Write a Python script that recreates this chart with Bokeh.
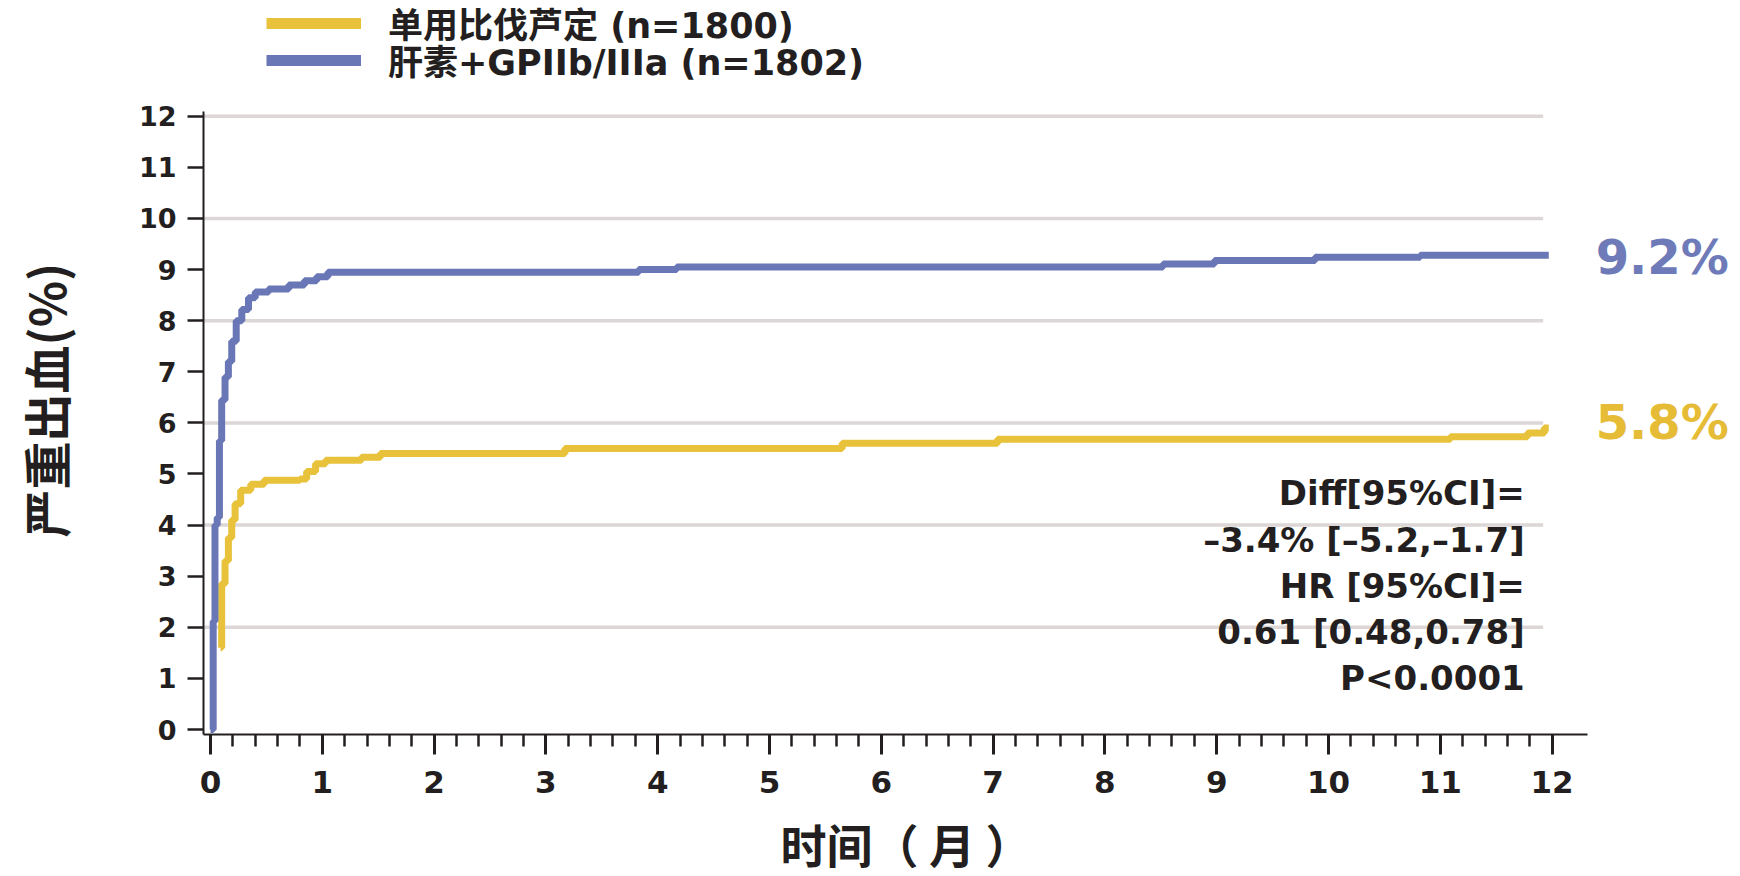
from bokeh.plotting import figure
from bokeh.models import Range1d, FixedTicker, Label, Legend, LegendItem, Title
from bokeh.embed import file_html
from bokeh.resources import INLINE

# ---- data ----
months_bival = [0.09, 0.10, 0.13, 0.16, 0.19, 0.22, 0.27, 0.36, 0.48, 0.80, 0.86, 0.94,
                1.03, 1.35, 1.52, 3.17, 5.65, 7.04, 11.09, 11.78, 11.93, 11.97]
pct_bival = [1.6, 2.85, 3.3, 3.75, 4.1, 4.42, 4.68, 4.8, 4.88, 4.9, 5.05, 5.2,
             5.27, 5.33, 5.4, 5.5, 5.6, 5.68, 5.73, 5.8, 5.9, 5.9]

months_hep = [0.00, 0.024, 0.04, 0.06, 0.08, 0.10, 0.13, 0.16, 0.19, 0.23, 0.28, 0.34,
              0.40, 0.52, 0.70, 0.84, 0.95, 1.05, 3.83, 4.17, 8.52, 8.98, 9.88, 10.82, 11.97]
pct_hep = [0.0, 2.12, 4.0, 4.15, 5.65, 6.45, 6.9, 7.2, 7.6, 8.0, 8.22, 8.45,
           8.56, 8.62, 8.7, 8.78, 8.86, 8.95, 9.0, 9.05, 9.11, 9.18, 9.24, 9.28, 9.28]

y_ticks = list(range(0, 13))
x_ticks = list(range(0, 13))
x_minor_ticks = [round(i * 0.2, 2) for i in range(61)]
grid_levels = [2, 4, 6, 8, 10, 12]

legend_labels = ["单用比伐芦定 (n=1800)", "肝素+GPIIb/IIIa (n=1802)"]
end_label_bival = "5.8%"
end_label_hep = "9.2%"
stats_lines = ["Diff[95%CI]=", "–3.4% [–5.2,–1.7]", "HR [95%CI]=",
               "0.61 [0.48,0.78]", "P<0.0001"]
x_title = "时间（ 月 ）"
y_title = "严重出血(%)"

# ---- style ----
GOLD = "#e8c23a"
BLUE = "#6a77b6"
INK = "#231f20"
GRID = "#ddd6d6"
LATIN = "DejaVu Sans"
MIXED = "DejaVu Sans, Noto Sans CJK SC"
CJK = "Noto Sans CJK SC"

# frame spans from the y axis to the right edge and from the top edge to the x axis;
# axis bounds keep the drawn axes to the reference's extent
x0, x1 = -0.0626, 13.685
y0, y1 = -0.0978, 14.266
x_axis_end = 12.317
y_axis_end = 12.09

p = figure(width=1740, height=876, x_range=Range1d(x0, x1), y_range=Range1d(y0, y1),
           output_backend="svg", toolbar_location=None,
           min_border_left=203, min_border_right=0, min_border_top=0, min_border_bottom=142)
p.outline_line_color = None
p.xgrid.visible = False
p.ygrid.visible = False
p.background_fill_color = "white"

# horizontal gridlines (stop just short of month 12, as in the reference)
p.segment(x0=[x0] * len(grid_levels), y0=grid_levels,
          x1=[11.92] * len(grid_levels), y1=grid_levels,
          line_color=GRID, line_width=3.5)

# curves
p.step(months_bival, pct_bival, mode="after", line_color=GOLD, line_width=7)
p.step(months_hep, pct_hep, mode="after", line_color=BLUE, line_width=7)

# legend swatches: renderers whose only point lies outside the visible ranges
r_gold = p.line(x=[x0 - 5, x0 - 5], y=[y0 - 5, y0 - 5], line_color=GOLD, line_width=11)
r_blue = p.line(x=[x0 - 5, x0 - 5], y=[y0 - 5, y0 - 5], line_color=BLUE, line_width=11)

def make_legend(label, renderer, loc):
    return Legend(items=[LegendItem(label=label, renderers=[renderer])],
                  location=loc, glyph_width=95, glyph_height=12, label_standoff=27,
                  label_text_font=MIXED, label_text_font_size="35px",
                  label_text_font_style="bold", label_text_color=INK,
                  border_line_color=None, background_fill_alpha=0,
                  padding=0, margin=0, spacing=0, label_height=30)

p.add_layout(make_legend(legend_labels[0], r_gold, (63, 686)))
p.add_layout(make_legend(legend_labels[1], r_blue, (63, 649)))

# axes
ax_y = p.yaxis[0]
ax_y.bounds = (y0, y_axis_end)
ax_y.ticker = FixedTicker(ticks=y_ticks)
ax_y.axis_line_width = 2
ax_y.axis_line_color = INK
ax_y.major_tick_out = 16
ax_y.major_tick_in = 0
ax_y.minor_tick_out = 0
ax_y.minor_tick_in = 0
ax_y.major_tick_line_width = 2.5
ax_y.major_tick_line_color = INK
ax_y.major_label_text_font = LATIN
ax_y.major_label_text_font_size = "27px"
ax_y.major_label_text_font_style = "bold"
ax_y.major_label_text_color = INK
ax_y.major_label_standoff = 11
# trailing no-break spaces shift the frame-centred label down to the reference position
ax_y.axis_label = y_title + "\u00a0" * 6
ax_y.axis_label_text_font = CJK
ax_y.axis_label_text_font_size = "48px"
ax_y.axis_label_text_font_style = "bold"
ax_y.axis_label_text_color = INK
ax_y.axis_label_standoff = 56

ax_x = p.xaxis[0]
ax_x.bounds = (x0, x_axis_end)
ax_x.ticker = FixedTicker(ticks=x_ticks, minor_ticks=x_minor_ticks)
ax_x.axis_line_width = 2
ax_x.axis_line_color = INK
ax_x.major_tick_out = 20
ax_x.major_tick_in = 0
ax_x.minor_tick_out = 12
ax_x.minor_tick_in = 0
ax_x.major_tick_line_width = 3
ax_x.minor_tick_line_width = 2.5
ax_x.major_tick_line_color = INK
ax_x.minor_tick_line_color = INK
ax_x.major_label_text_font = LATIN
ax_x.major_label_text_font_size = "31px"
ax_x.major_label_text_font_style = "bold"
ax_x.major_label_text_color = INK
ax_x.major_label_standoff = 16
# a blank, tiny axis label acts as a spacer that pushes the title below it downwards
ax_x.axis_label = "\u00a0"
ax_x.axis_label_text_font_size = "1px"
ax_x.axis_label_standoff = 7

# x-axis title, centred under the drawn axis rather than the whole frame
p.add_layout(Title(text=x_title, align="left", offset=577, vertical_align="bottom",
                   standoff=2, text_font=CJK, text_font_size="46px",
                   text_font_style="bold", text_color=INK), "below")

# end-of-curve labels
p.add_layout(Label(x=12.39, y=9.24, text=end_label_hep, text_align="left",
                   text_baseline="middle", text_font=LATIN, text_font_size="48px",
                   text_font_style="bold", text_color="#6e7bb8"))
p.add_layout(Label(x=12.39, y=6.01, text=end_label_bival, text_align="left",
                   text_baseline="middle", text_font=LATIN, text_font_size="48px",
                   text_font_style="bold", text_color="#e6bb36"))

# statistics block
for i, line in enumerate(stats_lines):
    p.add_layout(Label(x=11.755, y=4.62 - i * 0.905, text=line, text_align="right",
                       text_baseline="middle", text_font=LATIN, text_font_size="34px",
                       text_font_style="bold", text_color=INK))

open("out.html", "w").write(file_html(p, INLINE))
